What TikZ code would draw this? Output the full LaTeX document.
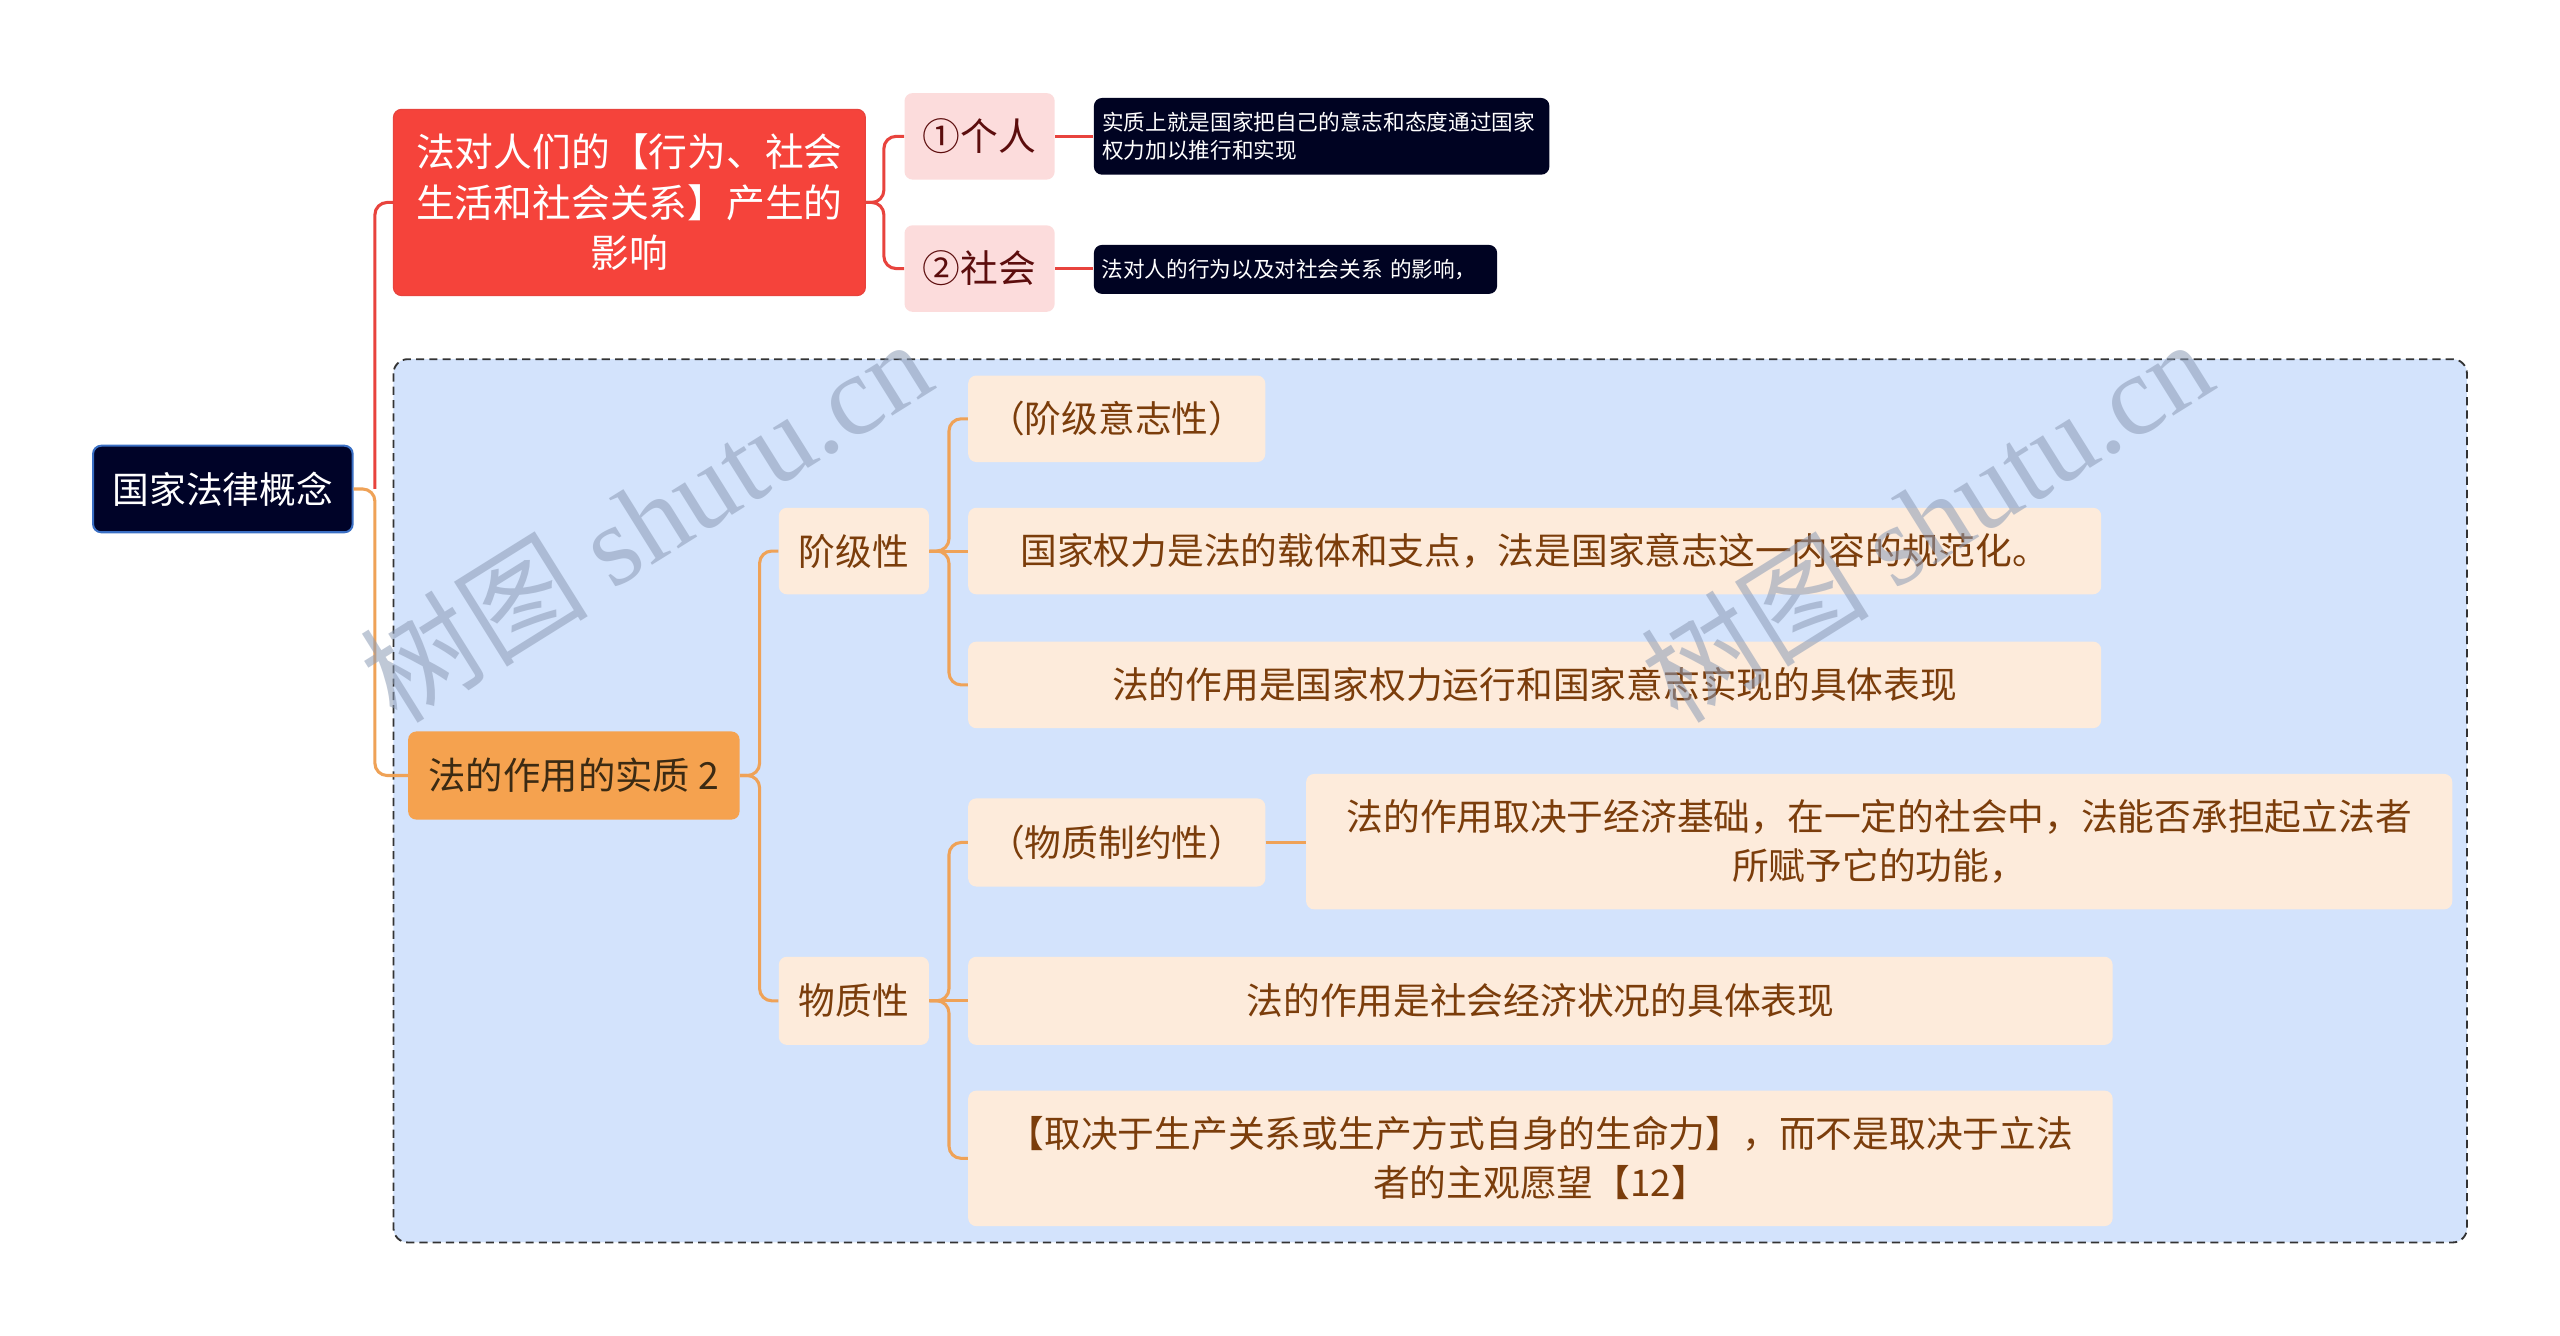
\documentclass[tikz,border=0pt]{standalone}
\usepackage{fontspec}
\setmainfont{Noto Sans CJK SC}
\newfontfamily\wmfont{Liberation Serif}
\definecolor{rootfill}{HTML}{000328}
\definecolor{rootedge}{HTML}{3A6FC4}
\definecolor{redfill}{HTML}{F5433B}
\definecolor{redline}{HTML}{E8433D}
\definecolor{pinkfill}{HTML}{FCDCDC}
\definecolor{pinktext}{HTML}{5C0D0D}
\definecolor{blkfill}{HTML}{000322}
\definecolor{bluebg}{HTML}{D3E3FC}
\definecolor{orgfill}{HTML}{F5A24F}
\definecolor{orgtext}{HTML}{3B2A13}
\definecolor{orgline}{HTML}{EFA257}
\definecolor{creamfill}{HTML}{FDEBDB}
\definecolor{creamtext}{HTML}{7B3D0B}
\definecolor{wmcol}{HTML}{8C9BB5}
\tikzset{
  basebox/.style={rounded corners=4pt, inner sep=0pt, align=center},
  rootbox/.style={basebox, fill=rootfill, draw=rootedge, line width=1pt, text=white, font=\fontsize{18pt}{22pt}\selectfont},
  redbox/.style={basebox, fill=redfill, draw=redline, line width=0.6pt, text=white, font=\fontsize{19pt}{24.8pt}\selectfont},
  pinkbox/.style={basebox, fill=pinkfill, text=pinktext, font=\fontsize{18.5pt}{22pt}\selectfont},
  blkbox/.style={basebox, fill=blkfill, text=white, align=left, font=\fontsize{10.6pt}{13.6pt}\selectfont},
  orgbox/.style={basebox, fill=orgfill, text=orgtext, font=\fontsize{18.3pt}{22pt}\selectfont},
  creambox/.style={basebox, fill=creamfill, text=creamtext, font=\fontsize{18pt}{24pt}\selectfont},
  redconn/.style={draw=redline, line width=1.5pt, rounded corners=6pt},
  orgconn/.style={draw=orgline, line width=1.5pt, rounded corners=6pt},
  wmtext/.style={text=wmcol, opacity=0.55, rotate=32, font=\fontsize{56pt}{60pt}\selectfont}
}
\begin{document}
\begin{tikzpicture}[x=0.8pt,y=-0.8pt]
\useasboundingbox[fill=white] (0,0) rectangle (1568,818);
% dashed region
\draw[fill=bluebg, draw=black!80, line width=0.9pt, dash pattern=on 4pt off 2.5pt, rounded corners=7pt] (241,220) rectangle (1511,761);

% nodes
\node[rootbox, minimum width=127.2pt, minimum height=42.4pt] (root) at (136.5,299.5) {国家法律概念};
\node[redbox, minimum width=231.2pt, minimum height=91.2pt] (red) at (385.5,124) {法对人们的【行为、社会\\生活和社会关系】产生的\\影响};
\node[pinkbox, minimum width=73.6pt, minimum height=42.4pt] (p1) at (600,83.5) {①个人};
\node[pinkbox, minimum width=73.6pt, minimum height=42.4pt] (p2) at (600,164.5) {②社会};
\node[blkbox, minimum width=223.2pt, minimum height=37.6pt, text width=215pt] (k1) at (809.5,83.5) {实质上就是国家把自己的意志和态度通过国家\\权力加以推行和实现};
\node[blkbox, minimum width=197.6pt, minimum height=24pt, text width=190pt] (k2) at (793.5,165) {法对人的行为以及对社会关系 的影响，};

\node[orgbox, minimum width=162.4pt, minimum height=43.2pt] (org) at (351.5,475) {法的作用的实质 2};
\node[creambox, minimum width=73.6pt, minimum height=42.4pt] (jj) at (523,337.5) {阶级性};
\node[creambox, minimum width=73.6pt, minimum height=43.2pt] (wz) at (523,613) {物质性};

\node[creambox, minimum width=145.6pt, minimum height=42.4pt] (a1) at (684,256.5) {（阶级意志性）};
\node[creambox, minimum width=555.2pt, minimum height=42.4pt] (a2) at (940,337.5) {国家权力是法的载体和支点，法是国家意志这一内容的规范化。};
\node[creambox, minimum width=555.2pt, minimum height=42.4pt] (a3) at (940,419.5) {法的作用是国家权力运行和国家意志实现的具体表现};

\node[creambox, minimum width=145.6pt, minimum height=43.2pt] (b1) at (684,516) {（物质制约性）};
\node[creambox, minimum width=561.6pt, minimum height=66.4pt] (b1c) at (1151,515.5) {法的作用取决于经济基础，在一定的社会中，法能否承担起立法者\\所赋予它的功能，};
\node[creambox, minimum width=560.8pt, minimum height=43.2pt] (b2) at (943.5,613) {法的作用是社会经济状况的具体表现};
\node[creambox, minimum width=560.8pt, minimum height=66.4pt] (b3) at (943.5,709.5) {【取决于生产关系或生产方式自身的生命力】，而不是取决于立法\\者的主观愿望【12】};

% connectors
\draw[orgconn] (root.east) -- ++(13,0) |- (org.west);
\draw[redconn] (root.east) ++(13,0) |- (red.west);
\draw[redconn] (red.east) -- ++(11,0) |- (p1.west);
\draw[redconn] (red.east) -- ++(11,0) |- (p2.west);
\draw[redconn] (p1.east) -- (k1.west |- p1.east);
\draw[redconn] (p2.east) -- (k2.west |- p2.east);

\draw[orgconn] (org.east) -- ++(12,0) |- (jj.west);
\draw[orgconn] (org.east) -- ++(12,0) |- (wz.west);
\draw[orgconn] (jj.east) -- ++(12,0) |- (a1.west);
\draw[orgconn] (jj.east) -- (a2.west);
\draw[orgconn] (jj.east) -- ++(12,0) |- (a3.west);
\draw[orgconn] (wz.east) -- ++(12,0) |- (b1.west);
\draw[orgconn] (wz.east) -- (b2.west);
\draw[orgconn] (wz.east) -- ++(12,0) |- (b3.west);
\draw[orgconn] (b1.east) -- (b1c.west |- b1.east);

% watermarks
\node[wmtext] (wm1) at (395,318) {树图 {\wmfont shutu.cn}};
\node[wmtext] (wm2) at (1180,318) {树图 {\wmfont shutu.cn}};
\end{tikzpicture}
\end{document}
